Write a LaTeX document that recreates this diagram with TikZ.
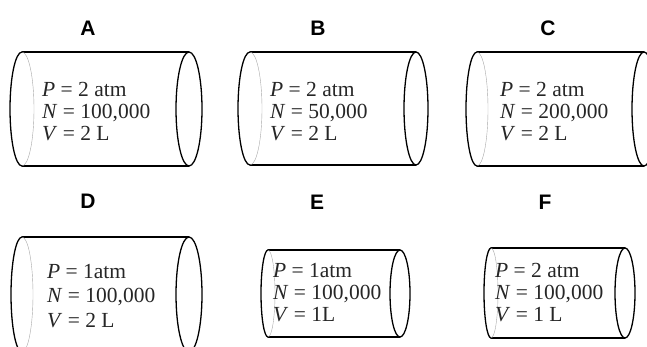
\documentclass[tikz,border=0pt]{standalone}
\usepackage{fontspec}
\setmainfont{Liberation Serif}
\setsansfont{Liberation Sans}
\begin{document}
\begin{tikzpicture}[x=1pt,y=-1pt,line join=round,line cap=round,
	rim/.style={line width=1.3pt},
	backrim/.style={gray!70,line width=0.4pt},
	caption/.style={font=\sffamily\bfseries\fontsize{21}{21}\selectfont,inner sep=0pt},
	gas/.style={align=left,inner sep=0pt,anchor=west,text=black!85,font=\fontsize{21.5}{22}\selectfont}]
	\useasboundingbox (0,0) rectangle (647,347);
	\clip (0,0) rectangle (647,347);
	% cylinders: left centre/radius, right centre/radius, top, bottom
	\foreach \xl/\al/\xr/\ar/\yt/\yb in {22/12/189/13/52/166,250/12/416/12/52/165,477/11/644/12/52/166,22/11/189/13/237/352,268/7/400/10/250/337,491/7/625/10/248/338}{
		\pgfmathsetmacro\h{(\yb-\yt)/2}
		\draw[rim] (\xl,\yt) -- (\xr,\yt) (\xl,\yb) -- (\xr,\yb);
		\draw[rim] (\xr,\yt+\h) ellipse[x radius=\ar,y radius=\h];
		\draw[rim] (\xl,\yb) arc[start angle=90,end angle=270,x radius=\al,y radius=\h];
		\draw[backrim] (\xl,\yt) arc[start angle=270,end angle=450,x radius=\al,y radius=\h];
	}
	% labels
	\node[caption] (labA) at (88,28) {A};
	\node[caption] (labB) at (318,28) {B};
	\node[caption] (labC) at (548,28) {C};
	\node[caption] (labD) at (88,201) {D};
	\node[caption] (labE) at (317,202) {E};
	\node[caption] (labF) at (545,202) {F};
	% contents
	\node[gas] (gasA) at (42,112) {\textit{P} = 2 atm\\\textit{N} = 100,000\\\textit{V} = 2 L};
	\node[gas] (gasB) at (270,112) {\textit{P} = 2 atm\\\textit{N} = 50,000\\\textit{V} = 2 L};
	\node[gas] (gasC) at (500,112) {\textit{P} = 2 atm\\\textit{N} = 200,000\\\textit{V} = 2 L};
	\node[gas,font=\fontsize{21.5}{24.5}\selectfont] (gasD) at (47,296) {\textit{P} = 1atm\\\textit{N} = 100,000\\\textit{V} = 2 L};
	\node[gas] (gasE) at (273,293) {\textit{P} = 1atm\\\textit{N} = 100,000\\\textit{V} = 1L};
	\node[gas] (gasF) at (495,293) {\textit{P} = 2 atm\\\textit{N} = 100,000\\\textit{V} = 1 L};
\end{tikzpicture}
\end{document}
